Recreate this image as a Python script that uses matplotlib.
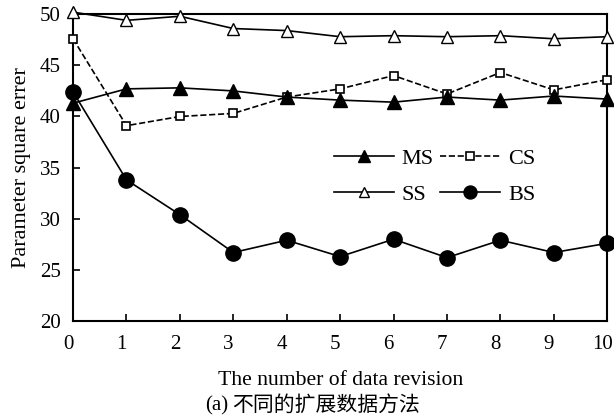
import numpy as np
import matplotlib.pyplot as plt
import matplotlib.transforms as mtransforms

plt.rcParams['font.family'] = ['Liberation Serif', 'DejaVu Serif']
plt.rcParams['mathtext.fontset'] = 'stix'

# data
x = np.arange(0, 11)
ms = [41.3, 42.7, 42.8, 42.5, 41.9, 41.6, 41.4, 41.9, 41.6, 42.0, 41.7]
cs = [47.6, 39.1, 40.0, 40.3, 41.9, 42.7, 44.0, 42.2, 44.3, 42.6, 43.6]
ss = [50.2, 49.4, 49.8, 48.6, 48.4, 47.8, 47.9, 47.8, 47.9, 47.6, 47.8]
bs = [42.4, 33.8, 30.4, 26.7, 27.9, 26.3, 28.0, 26.2, 27.9, 26.7, 27.6]

fig = plt.figure(figsize=(6.14, 4.18), dpi=100)
ax = fig.add_axes([0.119, 0.232, 0.870, 0.734])

l_ms, = ax.plot(x, ms, '-', color='black', lw=1.2, marker='^', ms=10, mfc='black', label='MS', clip_on=False, zorder=4)
l_cs, = ax.plot(x, cs, '--', color='black', lw=1.2, marker='s', ms=6, mfc='white', mew=1.2, label='CS', clip_on=False, zorder=3)
l_ss, = ax.plot(x, ss, '-', color='black', lw=1.2, marker='^', ms=8.5, mfc='white', mew=1.0, label='SS', clip_on=False, zorder=3)
l_bs, = ax.plot(x, bs, '-', color='black', lw=1.2, marker='o', ms=11, mfc='black', label='BS', clip_on=False, zorder=4)

ax.set_xlim(0, 10)
ax.set_ylim(20, 50)
ax.set_xticks(x)
ax.set_yticks([20, 25, 30, 35, 40, 45, 50])
ax.tick_params(direction='in', length=5, width=1.2, labelsize=15)
ax.tick_params(axis='x', pad=10)
ax.tick_params(axis='y', pad=9)
for s in ax.spines.values():
    s.set_linewidth(1.5)

# x tick labels sit a little left of their ticks in the reference
shift = mtransforms.ScaledTranslation(-5 / 100, 0, fig.dpi_scale_trans)
for lab in ax.get_xticklabels():
    lab.set_transform(lab.get_transform() + shift)

ax.set_xlabel('The number of data revision', fontsize=15.6, labelpad=12)
ax.set_ylabel('Parameter square errer', fontsize=16, labelpad=6)

# row order: MS CS / SS BS
ax.legend([l_ms, l_ss, l_cs, l_bs], ['MS', 'SS', 'CS', 'BS'],
          loc='center', bbox_to_anchor=(0.677, 0.47), ncol=2, frameon=False,
          fontsize=16, handlelength=2.7, handletextpad=0.35, columnspacing=0.3,
          labelspacing=0.7, borderpad=0, markerscale=0.85)

fig.text(0.334, 0.006, '(a)', fontsize=15, ha='left', va='bottom')
fig.text(0.378, 0.006, '不同的扩展数据方法', fontsize=15, ha='left', va='bottom',
         family=['Noto Sans CJK SC', 'DejaVu Sans'], fontweight='light')

fig.savefig('out.png', dpi=100)
